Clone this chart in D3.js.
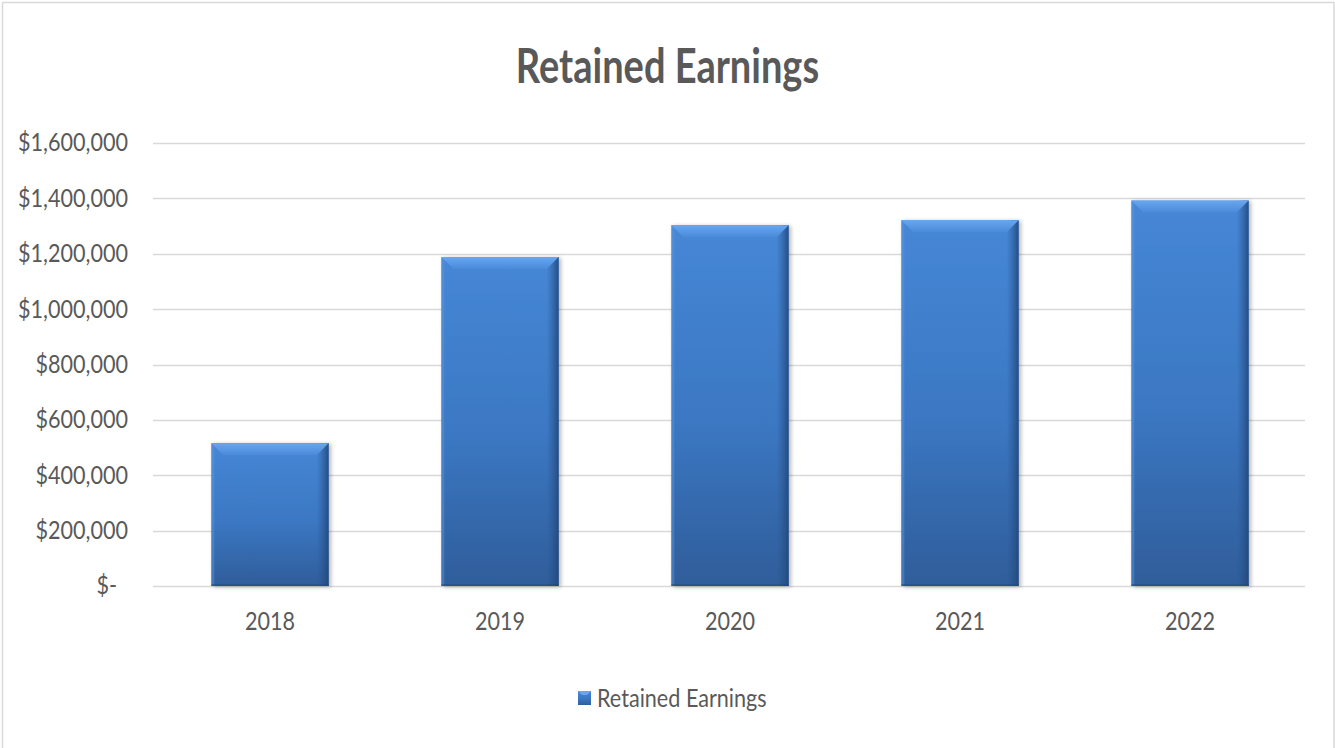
<!DOCTYPE html>
<html>
<head>
<meta charset="utf-8">
<script src="https://cdn.jsdelivr.net/npm/d3@7"></script>
<style>
    html, body { margin: 0; padding: 0; background: #fff; }
    svg { display: block; }
</style>
</head>
<body>
<svg id="chart"></svg>
<script>
    'use strict';

    var years = ['2018', '2019', '2020', '2021', '2022'];
    var earnings = [516000, 1188000, 1303000, 1321000, 1392000];
    var yTicks = [0, 200000, 400000, 600000, 800000, 1000000, 1200000, 1400000, 1600000];
    var seriesName = 'Retained Earnings';

    var width = 1335;
    var height = 748;
    var margin = {top: 143, right: 30, bottom: 162, left: 155};
    var bevel = 12;
    var fontFamily = 'Lato, "Open Sans", sans-serif';

    var svg = d3.select('#chart')
        .attr('width', width)
        .attr('height', height);

    var defs = svg.append('defs');

    var bodyGrad = defs.append('linearGradient')
        .attr('id', 'barBody')
        .attr('x1', 0).attr('y1', 0).attr('x2', 0).attr('y2', 1);
    bodyGrad.append('stop').attr('offset', '0%').attr('stop-color', '#4687d6');
    bodyGrad.append('stop').attr('offset', '55%').attr('stop-color', '#3b77c2');
    bodyGrad.append('stop').attr('offset', '100%').attr('stop-color', '#2f5d9a');

    var topGrad = defs.append('linearGradient')
        .attr('id', 'barTop')
        .attr('x1', 0).attr('y1', 0).attr('x2', 0).attr('y2', 1);
    topGrad.append('stop').attr('offset', '0%').attr('stop-color', '#6aa6ee');
    topGrad.append('stop').attr('offset', '100%').attr('stop-color', '#4a8ad9');

    var rightGrad = defs.append('linearGradient')
        .attr('id', 'barRight')
        .attr('x1', 0).attr('y1', 0).attr('x2', 1).attr('y2', 0);
    rightGrad.append('stop').attr('offset', '0%').attr('stop-color', '#2a5690').attr('stop-opacity', 0);
    rightGrad.append('stop').attr('offset', '100%').attr('stop-color', '#22477a').attr('stop-opacity', 0.9);

    var shadow = defs.append('filter')
        .attr('id', 'shadow')
        .attr('x', '-10%').attr('y', '-10%').attr('width', '130%').attr('height', '130%');
    shadow.append('feGaussianBlur').attr('in', 'SourceAlpha').attr('stdDeviation', 2);
    shadow.append('feOffset').attr('dx', 2).attr('dy', 1).attr('result', 'b');
    shadow.append('feComponentTransfer').append('feFuncA').attr('type', 'linear').attr('slope', 0.3);
    var merge = shadow.append('feMerge');
    merge.append('feMergeNode');
    merge.append('feMergeNode').attr('in', 'SourceGraphic');

    // frame
    svg.append('rect')
        .attr('x', 2.5).attr('y', 2.5)
        .attr('width', width - 3.5).attr('height', height + 10)
        .attr('fill', '#fff')
        .attr('stroke', '#d9d9d9')
        .attr('stroke-width', 1.5);

    var x = d3.scaleBand()
        .domain(years)
        .range([margin.left, width - margin.right])
        .paddingInner(0.49)
        .paddingOuter(0.245);

    var y = d3.scaleLinear()
        .domain([0, 1600000])
        .range([height - margin.bottom, margin.top]);

    var fmt = function(v) {
        return v === 0 ? '$-' : '$' + d3.format(',')(v);
    };

    // gridlines
    svg.append('g')
        .selectAll('line')
        .data(yTicks)
        .enter()
        .append('line')
        .attr('x1', margin.left - 2)
        .attr('x2', width - margin.right)
        .attr('y1', function(d) { return Math.round(y(d)) + 0.5; })
        .attr('y2', function(d) { return Math.round(y(d)) + 0.5; })
        .attr('stroke', '#d9d9d9')
        .attr('stroke-width', 1.5);

    // y axis labels
    var yAxis = d3.axisLeft(y).tickValues(yTicks).tickFormat(fmt).tickSize(0).tickPadding(0);
    var yg = svg.append('g')
        .attr('transform', 'translate(128,0)')
        .call(yAxis);
    yg.select('.domain').remove();
    yg.selectAll('text')
        .attr('fill', '#595959')
        .attr('font-family', fontFamily)
        .attr('font-size', '21.6px')
        .attr('dx', function(d) { return d === 0 ? -11 : 0; })
        .attr('transform', 'scale(1,1.14)');

    // x axis labels
    var xAxis = d3.axisBottom(x).tickSize(0).tickPadding(0);
    var xg = svg.append('g')
        .attr('transform', 'translate(0,' + (height - margin.bottom + 27) + ')')
        .call(xAxis);
    xg.select('.domain').remove();
    xg.selectAll('text')
        .attr('fill', '#595959')
        .attr('font-family', fontFamily)
        .attr('font-size', '21.6px')
        .attr('transform', 'scale(1,1.14)');

    // bars
    var bar = svg.append('g')
        .selectAll('g')
        .data(years.map(function(k, i) { return {key: k, value: earnings[i]}; }))
        .enter()
        .append('g')
        .attr('filter', 'url(#shadow)');

    bar.append('rect')
        .attr('x', function(d) { return x(d.key); })
        .attr('y', function(d) { return y(d.value); })
        .attr('width', x.bandwidth())
        .attr('height', function(d) { return y(0) - y(d.value); })
        .attr('fill', 'url(#barBody)');

    // right edge shading
    bar.append('rect')
        .attr('x', function(d) { return x(d.key) + x.bandwidth() - bevel; })
        .attr('y', function(d) { return y(d.value); })
        .attr('width', bevel)
        .attr('height', function(d) { return y(0) - y(d.value); })
        .attr('fill', 'url(#barRight)');

    // left edge highlight
    bar.append('rect')
        .attr('x', function(d) { return x(d.key); })
        .attr('y', function(d) { return y(d.value); })
        .attr('width', 3)
        .attr('height', function(d) { return y(0) - y(d.value); })
        .attr('fill', '#5a96e0')
        .attr('opacity', 0.45);

    // top bevel face
    bar.append('path')
        .attr('fill', 'url(#barTop)')
        .attr('d', function(d) {
            var x0 = x(d.key), x1 = x0 + x.bandwidth(), t = y(d.value);
            return 'M' + x0 + ',' + t + 'L' + x1 + ',' + t +
                'L' + (x1 - bevel) + ',' + (t + bevel) + 'L' + (x0 + bevel) + ',' + (t + bevel) + 'Z';
        });

    // bottom edge
    bar.append('rect')
        .attr('x', function(d) { return x(d.key); })
        .attr('y', y(0) - 2)
        .attr('width', x.bandwidth())
        .attr('height', 2)
        .attr('fill', '#24487a')
        .attr('opacity', 0.5);

    // title
    svg.append('text')
        .attr('transform', 'translate(' + (width / 2) + ',83) scale(1,1.25)')
        .attr('text-anchor', 'middle')
        .attr('fill', '#595959')
        .attr('font-family', fontFamily)
        .attr('font-weight', 'bold')
        .attr('font-size', '38px')
        .text('Retained Earnings');

    // legend
    var legend = svg.append('g').attr('transform', 'translate(578,691)');
    legend.append('rect')
        .attr('width', 13).attr('height', 14)
        .attr('fill', 'url(#barBody)');
    legend.append('path')
        .attr('fill', '#6aa6ee')
        .attr('d', 'M0,0L13,0L9,4L4,4Z');
    legend.append('text')
        .attr('transform', 'translate(19,7) scale(1,1.14)')
        .attr('dy', '0.35em')
        .attr('fill', '#595959')
        .attr('font-family', fontFamily)
        .attr('font-size', '21.6px')
        .text(seriesName);
</script>
</body>
</html>
